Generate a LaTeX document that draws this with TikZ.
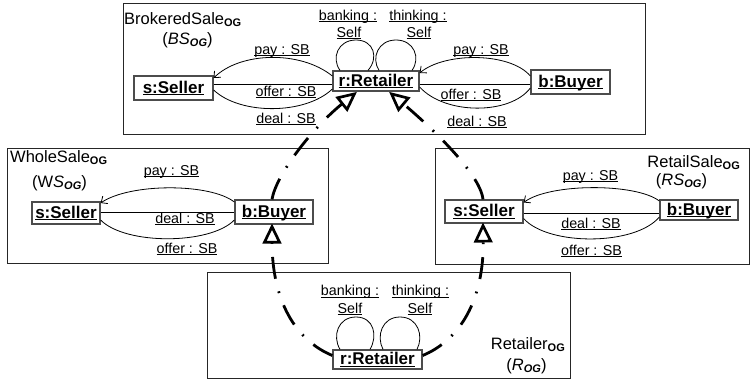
\documentclass[tikz,border=0pt]{standalone}
\usepackage{fontspec}
\setmainfont{Liberation Sans}
\usetikzlibrary{arrows.meta,calc,decorations.markings}
\newcommand\ogsub{\raisebox{-2.5pt}{\fontsize{11}{11}\selectfont\bfseries OG}}
\newcommand\ogsubit{\raisebox{-2.5pt}{\fontsize{11}{11}\selectfont\bfseries\itshape OG}}
\newcommand\ulx[1]{\underline{\raisebox{0pt}[\height][0pt]{#1}}}
\begin{document}
\begin{tikzpicture}[x=1pt,y=-1pt,
  frame/.style={draw=black!85, line width=0.9pt},
  obj/.style={draw=black!70, line width=1.3pt, fill=white, inner sep=0pt,
    font=\fontsize{17}{18}\selectfont\bfseries},
  lbl/.style={font=\fontsize{14.3}{15}\selectfont, inner sep=0pt, anchor=base},
  ttl/.style={font=\fontsize{16.5}{18}\selectfont, inner sep=0pt},
  rel/.style={line width=0.8pt},
  msg/.style={rel, -{Straight Barb[length=5pt,width=9pt,line width=0.8pt]}},
  gen/.style={line width=2.8pt, dash pattern=on 22pt off 13pt on 1.8pt off 13pt,
    shorten >=17pt,
    postaction={decorate},
    decoration={markings, mark=at position 1 with {
      \draw[solid, shorten >=0pt, line width=2.7pt, fill=white, line join=miter]
        (-2,0) -- (-17.5,7.5) -- (-17.5,-7.5) -- cycle;}}},
]
\useasboundingbox (0,0) rectangle (750,381);
% frames
\draw[frame] (123,3) rectangle (645,134);
\draw[frame] (7,148) rectangle (328,263);
\draw[frame] (435,148) rectangle (749,264);
\draw[frame] (207,272) rectangle (570,378);
% titles
\node[ttl, anchor=base west] (t1) at (124,24) {BrokeredSale\ogsub};
\node[ttl, anchor=base] (t1b) at (187.5,44) {(\textit{BS}\ogsubit)};
\node[ttl, anchor=base west] (t2) at (10,162) {WholeSale\ogsub};
\node[ttl, anchor=base] (t2b) at (59.5,187) {(W\textit{S}\ogsubit)};
\node[ttl, anchor=base east] (t3) at (740,167) {RetailSale\ogsub};
\node[ttl, anchor=base] (t3b) at (681.5,185) {(\textit{RS}\ogsubit)};
\node[ttl, anchor=base east] (t4) at (565,349) {Retailer\ogsub};
\node[ttl, anchor=base] (t4b) at (526.5,370) {(\textit{R}\ogsubit)};
% objects
\node[obj, minimum width=79pt, minimum height=24pt] (ts) at (173.5,88) {\ulx{s:Seller}};
\node[obj, minimum width=86pt, minimum height=20pt] (tr) at (376,81) {\ulx{r:Retailer}};
\node[obj, minimum width=79pt, minimum height=24pt] (tb) at (570.5,82) {\ulx{b:Buyer}};
\node[obj, minimum width=68pt, minimum height=22pt] (ws) at (66,213) {\ulx{s:Seller}};
\node[obj, minimum width=78pt, minimum height=24pt] (wb) at (274,212) {\ulx{b:Buyer}};
\node[obj, minimum width=78pt, minimum height=23pt] (rs) at (484,211.5) {\ulx{s:Seller}};
\node[obj, minimum width=78pt, minimum height=20pt] (rb) at (699,210) {\ulx{b:Buyer}};
\node[obj, minimum width=89pt, minimum height=19pt] (br) at (377.5,359.5) {\ulx{r:Retailer}};
% top relations
\draw[msg] ($(tr.west)+(0,-5)$) .. controls (300,50) and (240,52) .. ($(ts.east)+(0,-10)$);
\draw[rel] ($(ts.east)+(0,-4)$) -- ($(tr.west)+(0,3)$);
\draw[rel] ($(ts.east)+(0,2)$) .. controls (240,115) and (305,115) .. ($(tr.west)+(0,8)$);
\draw[msg] ($(tb.west)+(0,-6)$) .. controls (510,52) and (445,52) .. ($(tr.east)+(0,-8)$);
\draw[rel] ($(tr.east)+(0,3)$) -- ($(tb.west)+(0,2)$);
\draw[rel] ($(tr.east)+(0,6)$) .. controls (445,115) and (510,115) .. ($(tb.west)+(0,6)$);
\draw[rel] ($(tr.north)+(-36,0)$) .. controls (331,58) and (338,40) .. (356,40) .. controls (374,40) and (379,58) .. ($(tr.north)+(-8,0)$);
\draw[rel] ($(tr.north)+(3,0)$) .. controls (371,58) and (378,40) .. (396,40) .. controls (414,40) and (421,58) .. ($(tr.north)+(36,0)$);
\node[lbl] (l1) at (282,54) {\ulx{pay : SB}};
\node[lbl] (l2) at (286,96) {\ulx{offer : SB}};
\node[lbl] (l3) at (286,123) {\ulx{deal : SB}};
\node[lbl] (l4) at (481,54) {\ulx{pay : SB}};
\node[lbl] (l5) at (471,99) {\ulx{offer : SB}};
\node[lbl] (l6) at (477,126) {\ulx{deal : SB}};
\node[lbl] (l7) at (348,20) {\ulx{banking :}};
\node[lbl] (l8) at (349,37) {\ulx{Self}};
\node[lbl] (l9) at (418,20) {\ulx{thinking :}};
\node[lbl] (l10) at (419,37) {\ulx{Self}};
% wholesale relations
\draw[msg] ($(wb.west)+(0,-10)$) .. controls (210,183) and (130,183) .. ($(ws.east)+(0,-10)$);
\draw[rel] ($(ws.east)+(0,-1)$) -- (wb.west);
\draw[rel] ($(ws.east)+(0,7)$) .. controls (125,245) and (210,245) .. ($(wb.west)+(0,8)$);
\node[lbl] (w1) at (171.5,175) {\ulx{pay : SB}};
\node[lbl] (w2) at (185,223) {\ulx{deal : SB}};
\node[lbl] (w3) at (187,253) {\ulx{offer : SB}};
% retailsale relations
\draw[msg] ($(rb.west)+(0,-9)$) .. controls (636,183) and (550,183) .. ($(rs.east)+(0,-9)$);
\draw[rel] ($(rs.east)+(0,1.5)$) -- ($(rb.west)+(0,3)$);
\draw[rel] ($(rs.east)+(0,7)$) .. controls (548,246) and (635,246) .. ($(rb.west)+(0,7)$);
\node[lbl] (r1) at (590.5,180) {\ulx{pay : SB}};
\node[lbl] (r2) at (591,228) {\ulx{deal : SB}};
\node[lbl] (r3) at (591.5,255) {\ulx{offer : SB}};
% bottom loops
\draw[rel] ($(br.north)+(-37.5,0)$) .. controls (332,336) and (338,317) .. (356,317) .. controls (374,317) and (378,336) .. ($(br.north)+(-7.5,0)$);
\draw[rel] ($(br.north)+(5.5,0)$) .. controls (376,336) and (382,317) .. (400,317) .. controls (418,317) and (424,336) .. ($(br.north)+(39.5,0)$);
\node[lbl] (b1) at (350,295.5) {\ulx{banking :}};
\node[lbl] (b2) at (350,313) {\ulx{Self}};
\node[lbl] (b3) at (420.5,295.5) {\ulx{thinking :}};
\node[lbl] (b4) at (420,313) {\ulx{Self}};
% generalizations
\draw[gen] ($(wb.north)+(-2,0)$) .. controls (276,175) and (312,128) .. ($(tr.south)+(-20,1)$);
\draw[gen] ($(rs.north)+(-1,0)$) .. controls (480,172) and (425,122) .. ($(tr.south)+(14,1)$);
\draw[gen] ($(br.west)+(0,-4)$) .. controls (295,340) and (272,300) .. ($(wb.south)+(-2,0)$);
\draw[gen] ($(br.east)+(0,-4)$) .. controls (460,340) and (484,300) .. ($(rs.south)+(-1,0)$);
\end{tikzpicture}
\end{document}
